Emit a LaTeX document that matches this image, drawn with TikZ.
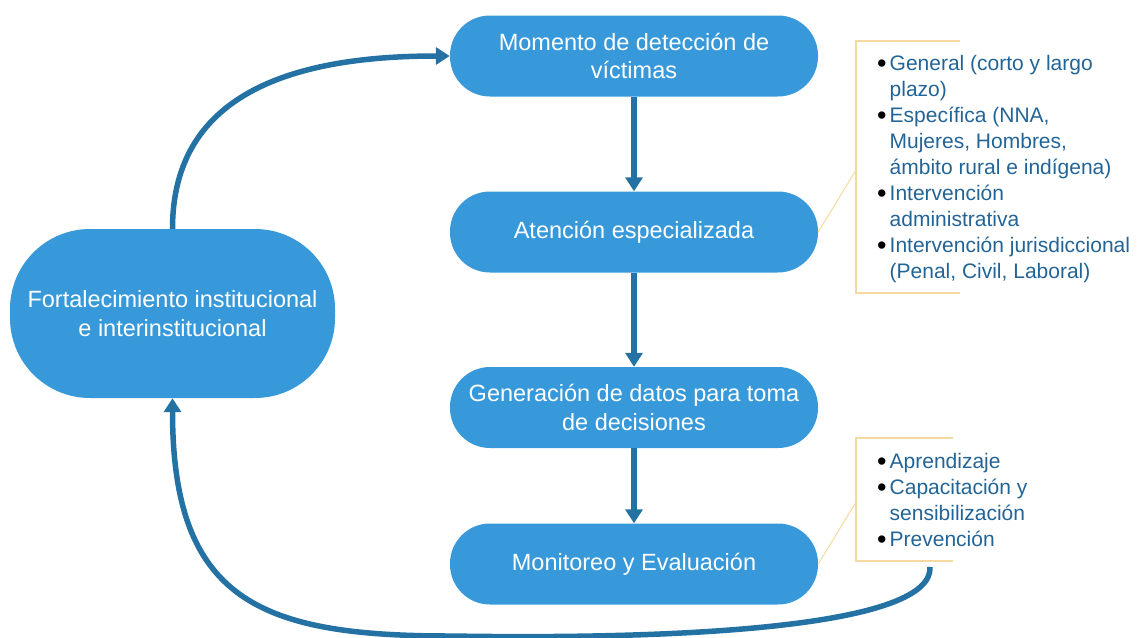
\documentclass[tikz,border=0pt]{standalone}
\usepackage{fontspec}
\setmainfont{Liberation Sans}
\usetikzlibrary{arrows.meta}
\definecolor{nodefill}{RGB}{55,153,218}
\definecolor{arrowcol}{RGB}{36,113,163}
\definecolor{listblue}{RGB}{35,100,150}
\definecolor{goldline}{RGB}{245,218,160}
\newcommand{\bul}{\raisebox{-2.5pt}{\textcolor{black}{\fontsize{27}{26}\selectfont\textbullet}}}
\tikzset{
  pill/.style={rectangle, rounded corners=40pt, fill=nodefill, text=white,
    minimum width=368pt, minimum height=81pt, inner sep=0pt, align=center,
    font=\fontsize{23.5}{28.5}\selectfont},
  bignode/.style={rectangle, rounded corners=80pt, fill=nodefill, text=white,
    minimum width=325pt, minimum height=169pt, inner sep=0pt, align=center,
    font=\fontsize{23.5}{28.5}\selectfont},
  flow/.style={draw=arrowcol, line width=5.5pt, -{Triangle[length=14pt,width=17pt]}},
  bracket/.style={draw=goldline, line width=1.6pt},
  leader/.style={draw=goldline, line width=1pt},
  listtext/.style={anchor=north west, inner sep=0pt, text=listblue,
    align=left, font=\fontsize{21}{26}\selectfont}
}
\begin{document}
\begin{tikzpicture}[x=1pt,y=-1pt]
\useasboundingbox (0,0) rectangle (1137,637);

\node[pill] (det) at (634,56) {Momento de detección de\\víctimas};
\node[pill] (ate) at (634,232) {Atención especializada};
\node[pill] (gen) at (634,407.5) {Generación de datos para toma\\de decisiones};
\node[pill] (mon) at (634,564) {Monitoreo y Evaluación};
\node[bignode] (fort) at (172.5,313.5) {Fortalecimiento institucional\\e interinstitucional};

\draw[flow] (det.south) -- (ate.north);
\draw[flow] (ate.south) -- (gen.north);
\draw[flow] (gen.south) -- (mon.north);

% bracket boxes
\coordinate (b1tl) at (960,41);
\coordinate (b1bl) at (960,293);
\coordinate (b1l) at (856,170);
\draw[bracket] (b1tl) -- (856,41) -- (856,293) -- (b1bl);
\draw[leader] (b1l) -- (ate.east);

\coordinate (b2tl) at (953,438);
\coordinate (b2bl) at (953,561);
\coordinate (b2l) at (856,502);
\draw[bracket] (b2tl) -- (856,438) -- (856,561) -- (b2bl);
\draw[leader] (b2l) -- (mon.east);

\node[listtext] (list1) at (877,52) {%
\begin{tabular}{@{}l@{\hspace{3pt}}l@{}}
\bul & General (corto y largo\\
 & plazo)\\
\bul & Específica (NNA,\\
 & Mujeres, Hombres,\\
 & ámbito rural e indígena)\\
\bul & Intervención\\
 & administrativa\\
\bul & Intervención jurisdiccional\\
 & (Penal, Civil, Laboral)
\end{tabular}};

\node[listtext] (list2) at (877,450) {%
\begin{tabular}{@{}l@{\hspace{3pt}}l@{}}
\bul & Aprendizaje\\
\bul & Capacitación y\\
 & sensibilización\\
\bul & Prevención
\end{tabular}};

% loop arrows
\coordinate (loopstart) at (930,567);
\draw[flow] (fort.north) .. controls +(0,-139) and +(-150,0) .. (det.west);
\draw[flow] (loopstart) .. controls +(3,58) and +(250,4) .. (450,636)
  .. controls +(-190,0) and +(0,202) .. (fort.south);
\end{tikzpicture}
\end{document}
